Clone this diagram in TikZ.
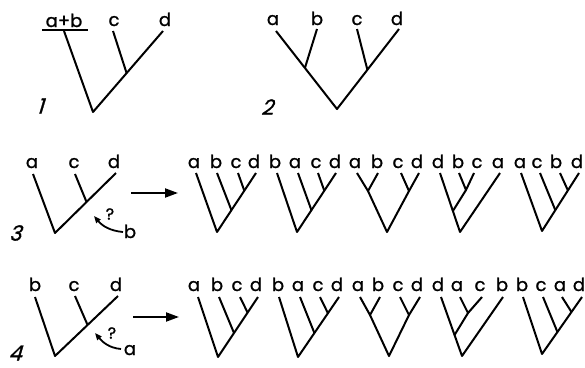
\documentclass[tikz,border=0pt]{standalone}
\usepackage{fontspec}
\setmainfont[FakeBold=1.2]{Poppins}
\newfontfamily\numfont[FakeSlant=0.3,FakeBold=1.2]{Poppins}
\usetikzlibrary{arrows.meta,calc}
\begin{document}
\begin{tikzpicture}[x=1pt,y=-1pt,
  br/.style={line width=2pt, line join=round},
  lab/.style={anchor=base, inner sep=0pt, font=\fontsize{18}{18}\selectfont},
  num/.style={inner sep=0pt, font=\numfont\fontsize{21}{21}\selectfont},
  qm/.style={inner sep=0pt, font=\fontsize{16}{16}\selectfont},
  bigarrow/.style={line width=2pt, -{Triangle[length=13pt,width=9pt]}},
  qarrow/.style={line width=1.8pt, -{Triangle[length=7pt,width=5.5pt]}}]
\useasboundingbox (0,0) rectangle (585,367);

% ---------- tree 1 ----------
\node[lab] (l1ab) at (64,27) {a+b};
\node[lab] (l1c) at (114,26) {c};
\node[lab] (l1d) at (165,26) {d};
\coordinate (u1l) at (42,30); \coordinate (u1r) at (88,30);
\coordinate (t1ab) at (64,31); \coordinate (t1c) at (113,31); \coordinate (t1d) at (163,31);
\coordinate (r1) at (93,112);
\coordinate (j1) at ($(r1)!0.48!(t1d)$);
\draw[br] (u1l) -- (u1r);
\draw[br] (t1ab) -- (r1) -- (t1d);
\draw[br] (t1c) -- (j1);
\node[num] (n1) at (40,106) {1};

% ---------- tree 2 ----------
\node[lab] (l2a) at (273,25) {a};
\node[lab] (l2b) at (317,25) {b};
\node[lab] (l2c) at (357,25) {c};
\node[lab] (l2d) at (397,25) {d};
\coordinate (t2a) at (276,31); \coordinate (t2b) at (317,29);
\coordinate (t2c) at (357,29); \coordinate (t2d) at (399,29);
\coordinate (r2) at (337,109);
\coordinate (j2ab) at ($(r2)!0.526!(t2a)$);
\coordinate (j2cd) at ($(r2)!0.49!(t2d)$);
\draw[br] (t2a) -- (r2) -- (t2d);
\draw[br] (t2b) -- (j2ab);
\draw[br] (t2c) -- (j2cd);
\node[num] (n2) at (267,107) {2};

% ---------- row 3 big ----------
\node[lab] (l3a) at (32,168) {a};
\node[lab] (l3c) at (74,168) {c};
\node[lab] (l3d) at (114,168) {d};
\coordinate (t3a) at (33,174); \coordinate (t3c) at (75,174); \coordinate (t3d) at (116,173);
\coordinate (r3) at (55,233);
\coordinate (j3) at ($(r3)!0.517!(t3d)$);
\draw[br] (t3a) -- (r3) -- (t3d);
\draw[br] (t3c) -- (j3);
\node[num] (n3) at (15,233) {3};
\node[lab] (l3b) at (130,238) {b};
\node[qm] (q3) at (110,214) {?};
\coordinate (q3s) at (123,232); \coordinate (q3e) at (94,216);
\draw[qarrow] (q3s) to[out=175, in=-50] (q3e);
\coordinate (a3s) at (131,193); \coordinate (a3e) at (178,193);
\draw[bigarrow] (a3s) -- (a3e);

% ---------- row 4 big ----------
\node[lab] (l4b) at (35,291) {b};
\node[lab] (l4c) at (74,291) {c};
\node[lab] (l4d) at (116,291) {d};
\coordinate (t4b) at (35,297); \coordinate (t4c) at (75,296); \coordinate (t4d) at (118,296);
\coordinate (r4) at (55,356);
\coordinate (j4) at ($(r4)!0.517!(t4d)$);
\draw[br] (t4b) -- (r4) -- (t4d);
\draw[br] (t4c) -- (j4);
\node[num] (n4) at (15,353) {4};
\node[lab] (l4a) at (130,355) {a};
\node[qm] (q4) at (112,333) {?};
\coordinate (q4s) at (121,349); \coordinate (q4e) at (95,333);
\draw[qarrow] (q4s) to[out=175, in=-50] (q4e);
\coordinate (a4s) at (133,317); \coordinate (a4e) at (179,317);
\draw[bigarrow] (a4s) -- (a4e);

% ---------- row 3 small trees ----------
% T3a abcd comb
\node[lab] (s3aa) at (194,168) {a};
\node[lab] (s3ab) at (216,168) {b};
\node[lab] (s3ac) at (236,168) {c};
\node[lab] (s3ad) at (254,168) {d};
\coordinate (p3aa) at (196,173); \coordinate (p3ab) at (217,173);
\coordinate (p3ac) at (238,173); \coordinate (p3ad) at (256,173);
\coordinate (r3a) at (217,232);
\coordinate (j3a1) at ($(r3a)!0.37!(p3ad)$);
\coordinate (j3a2) at ($(r3a)!0.70!(p3ad)$);
\draw[br] (p3aa) -- (r3a) -- (p3ad);
\draw[br] (p3ab) -- (j3a1);
\draw[br] (p3ac) -- (j3a2);
% T3b bacd comb
\node[lab] (s3bb) at (275,168) {b};
\node[lab] (s3ba) at (295,168) {a};
\node[lab] (s3bc) at (316,168) {c};
\node[lab] (s3bd) at (335,168) {d};
\coordinate (p3bb) at (277,173); \coordinate (p3ba) at (298,173);
\coordinate (p3bc) at (318,173); \coordinate (p3bd) at (336,173);
\coordinate (r3b) at (297,232);
\coordinate (j3b1) at ($(r3b)!0.37!(p3bd)$);
\coordinate (j3b2) at ($(r3b)!0.70!(p3bd)$);
\draw[br] (p3bb) -- (r3b) -- (p3bd);
\draw[br] (p3ba) -- (j3b1);
\draw[br] (p3bc) -- (j3b2);
% T3c abcd balanced
\node[lab] (s3ca) at (355,168) {a};
\node[lab] (s3cb) at (377,168) {b};
\node[lab] (s3cc) at (398,168) {c};
\node[lab] (s3cd) at (417,168) {d};
\coordinate (p3ca) at (357,173); \coordinate (p3cb) at (378,173);
\coordinate (p3cc) at (401,173); \coordinate (p3cd) at (419,173);
\coordinate (k3c1) at (368,191); \coordinate (k3c2) at (409,191);
\coordinate (r3c) at (387,232);
\draw[br] (p3ca) -- (k3c1) -- (p3cb);
\draw[br] (p3cc) -- (k3c2) -- (p3cd);
\draw[br] (k3c1) -- (r3c) -- (k3c2);
% T3d dbca
\node[lab] (s3dd) at (438,168) {d};
\node[lab] (s3db) at (458,168) {b};
\node[lab] (s3dc) at (477,168) {c};
\node[lab] (s3da) at (498,168) {a};
\coordinate (p3dd) at (440,173); \coordinate (p3db) at (459,173);
\coordinate (p3dc) at (474,173); \coordinate (p3da) at (500,173);
\coordinate (r3d) at (460,232);
\coordinate (k3d) at (466,190);
\coordinate (j3d) at ($(r3d)!0.356!(p3dd)$);
\draw[br] (p3dd) -- (r3d) -- (p3da);
\draw[br] (p3db) -- (k3d) -- (p3dc);
\draw[br] (k3d) -- (j3d);
% T3e acbd comb
\node[lab] (s3ea) at (520,168) {a};
\node[lab] (s3ec) at (537,168) {c};
\node[lab] (s3eb) at (556,168) {b};
\node[lab] (s3ed) at (577,168) {d};
\coordinate (p3ea) at (521,173); \coordinate (p3ec) at (540,173);
\coordinate (p3eb) at (560,173); \coordinate (p3ed) at (579,173);
\coordinate (r3e) at (542,231);
\coordinate (j3e1) at ($(r3e)!0.36!(p3ed)$);
\coordinate (j3e2) at ($(r3e)!0.70!(p3ed)$);
\draw[br] (p3ea) -- (r3e) -- (p3ed);
\draw[br] (p3ec) -- (j3e1);
\draw[br] (p3eb) -- (j3e2);

% ---------- row 4 small trees ----------
% T4a abcd comb
\node[lab] (s4aa) at (194,291) {a};
\node[lab] (s4ab) at (217,291) {b};
\node[lab] (s4ac) at (237,291) {c};
\node[lab] (s4ad) at (256,291) {d};
\coordinate (p4aa) at (198,297); \coordinate (p4ab) at (219,297);
\coordinate (p4ac) at (240,297); \coordinate (p4ad) at (258,297);
\coordinate (r4a) at (218,357);
\coordinate (j4a1) at ($(r4a)!0.40!(p4ad)$);
\coordinate (j4a2) at ($(r4a)!0.74!(p4ad)$);
\draw[br] (p4aa) -- (r4a) -- (p4ad);
\draw[br] (p4ab) -- (j4a1);
\draw[br] (p4ac) -- (j4a2);
% T4b bacd comb
\node[lab] (s4bb) at (278,291) {b};
\node[lab] (s4ba) at (298,291) {a};
\node[lab] (s4bc) at (318,291) {c};
\node[lab] (s4bd) at (337,291) {d};
\coordinate (p4bb) at (279,297); \coordinate (p4ba) at (300,297);
\coordinate (p4bc) at (320,297); \coordinate (p4bd) at (339,297);
\coordinate (r4b) at (298,357);
\coordinate (j4b1) at ($(r4b)!0.40!(p4bd)$);
\coordinate (j4b2) at ($(r4b)!0.73!(p4bd)$);
\draw[br] (p4bb) -- (r4b) -- (p4bd);
\draw[br] (p4ba) -- (j4b1);
\draw[br] (p4bc) -- (j4b2);
% T4c abcd balanced
\node[lab] (s4ca) at (358,291) {a};
\node[lab] (s4cb) at (378,291) {b};
\node[lab] (s4cc) at (398,291) {c};
\node[lab] (s4cd) at (417,291) {d};
\coordinate (p4ca) at (360,297); \coordinate (p4cb) at (380,297);
\coordinate (p4cc) at (400,297); \coordinate (p4cd) at (420,297);
\coordinate (k4c1) at (370,315); \coordinate (k4c2) at (409,315);
\coordinate (r4c) at (389,356);
\draw[br] (p4ca) -- (k4c1) -- (p4cb);
\draw[br] (p4cc) -- (k4c2) -- (p4cd);
\draw[br] (k4c1) -- (r4c) -- (k4c2);
% T4d dacb
\node[lab] (s4dd) at (438,291) {d};
\node[lab] (s4da) at (457,291) {a};
\node[lab] (s4dc) at (480,291) {c};
\node[lab] (s4db) at (502,291) {b};
\coordinate (p4dd) at (441,297); \coordinate (p4da) at (460,297);
\coordinate (p4dc) at (482,297); \coordinate (p4db) at (503,297);
\coordinate (r4d) at (462,356);
\coordinate (k4d) at (468,313);
\coordinate (j4d) at ($(r4d)!0.356!(p4dd)$);
\draw[br] (p4dd) -- (r4d) -- (p4db);
\draw[br] (p4da) -- (k4d) -- (p4dc);
\draw[br] (k4d) -- (j4d);
% T4e bcad comb
\node[lab] (s4eb) at (522,291) {b};
\node[lab] (s4ec) at (541,291) {c};
\node[lab] (s4ea) at (560,291) {a};
\node[lab] (s4ed) at (579,291) {d};
\coordinate (p4eb) at (523,297); \coordinate (p4ec) at (543,297);
\coordinate (p4ea) at (562,297); \coordinate (p4ed) at (582,297);
\coordinate (r4e) at (542,354);
\coordinate (j4e1) at ($(r4e)!0.386!(p4ed)$);
\coordinate (j4e2) at ($(r4e)!0.737!(p4ed)$);
\draw[br] (p4eb) -- (r4e) -- (p4ed);
\draw[br] (p4ec) -- (j4e1);
\draw[br] (p4ea) -- (j4e2);
\end{tikzpicture}
\end{document}
